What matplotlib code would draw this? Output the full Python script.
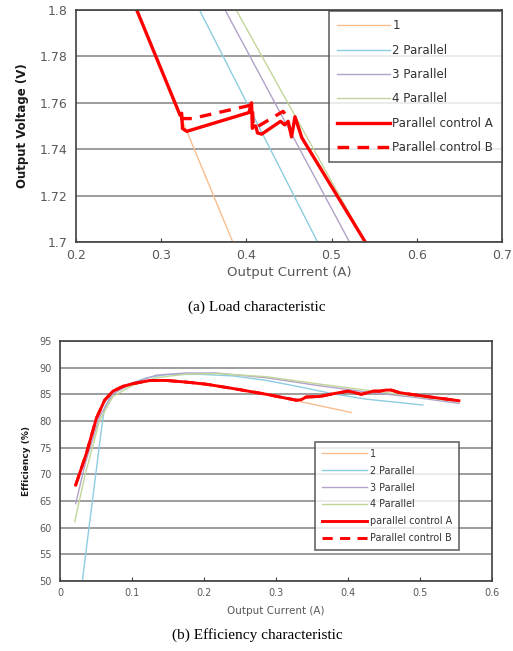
import matplotlib
matplotlib.use("Agg")
import matplotlib.pyplot as plt

# ---------------- (a) Load characteristic ----------------
load_labels = ["1", "2 Parallel", "3 Parallel", "4 Parallel", "Parallel control A", "Parallel control B"]
load_1_x = [0.271, 0.384]
load_1_y = [1.800, 1.700]
load_2_x = [0.345, 0.4835]
load_2_y = [1.800, 1.700]
load_3_x = [0.375, 0.521]
load_3_y = [1.800, 1.700]
load_4_x = [0.388, 0.5395]
load_4_y = [1.800, 1.700]
load_A_x = [0.2713, 0.3222, 0.3240, 0.3250, 0.3300, 0.4030, 0.4060, 0.4070, 0.4090, 0.4110,
            0.4130, 0.4180, 0.4400, 0.4450, 0.4490, 0.4530, 0.4570, 0.4650, 0.5395]
load_A_y = [1.8000, 1.7546, 1.7555, 1.7489, 1.7477, 1.7558, 1.7600, 1.7490, 1.7500, 1.7500,
            1.7470, 1.7465, 1.7520, 1.7505, 1.7520, 1.7453, 1.7540, 1.7450, 1.7000]
load_B_x = [0.3222, 0.3360, 0.4030, 0.4070, 0.4080, 0.4130, 0.4430, 0.4470]
load_B_y = [1.7532, 1.7532, 1.7588, 1.7590, 1.7500, 1.7497, 1.7563, 1.7545]

# ---------------- (b) Efficiency characteristic ----------------
eff_labels = ["1", "2 Parallel", "3 Parallel", "4 Parallel", "parallel control A", "Parallel control B"]
eff_A_x = [0.0218, 0.0366, 0.0505, 0.062, 0.0736, 0.0875, 0.101, 0.125, 0.148, 0.175, 0.203, 0.240,
           0.287, 0.328, 0.335, 0.342, 0.361, 0.379, 0.400, 0.407, 0.4185, 0.435, 0.444, 0.453,
           0.460, 0.472, 0.509, 0.554]
eff_A_y = [68.0, 73.9, 80.5, 83.9, 85.6, 86.5, 87.0, 87.6, 87.6, 87.3, 86.9, 86.1,
           85.0, 83.9, 84.0, 84.5, 84.6, 85.1, 85.6, 85.4, 85.0, 85.6, 85.6, 85.8,
           85.8, 85.3, 84.6, 83.8]
eff_B_x = [0.0218, 0.0366, 0.0505, 0.062, 0.0736, 0.0875, 0.101, 0.125, 0.148, 0.175, 0.203, 0.240,
           0.287, 0.328, 0.335, 0.342, 0.361, 0.379, 0.400, 0.407, 0.4185, 0.435, 0.444, 0.453,
           0.460, 0.472, 0.509, 0.554]
eff_B_y = [68.0, 73.9, 80.5, 83.9, 85.6, 86.5, 87.0, 87.6, 87.6, 87.3, 86.9, 86.1,
           85.0, 83.9, 84.0, 84.5, 84.6, 85.1, 85.6, 85.4, 85.0, 85.6, 85.6, 85.8,
           85.8, 85.3, 84.6, 83.8]
eff_1_x = [0.0218, 0.0366, 0.0505, 0.062, 0.0736, 0.0875, 0.101, 0.125, 0.148, 0.175, 0.203, 0.240,
           0.287, 0.328, 0.4046]
eff_1_y = [67.8, 73.7, 80.3, 83.8, 85.5, 86.4, 86.9, 87.5, 87.5, 87.2, 86.8, 86.0,
           84.9, 83.8, 81.6]
eff_2_x = [0.031, 0.0389, 0.0574, 0.062, 0.0736, 0.092, 0.120, 0.148, 0.194, 0.240, 0.287, 0.333,
           0.379, 0.425, 0.504]
eff_2_y = [50.0, 58.5, 78.3, 82.6, 85.4, 86.7, 88.1, 88.7, 88.76, 88.45, 87.6, 86.4,
           85.1, 84.1, 83.0]
eff_3_x = [0.0218, 0.035, 0.055, 0.0736, 0.101, 0.134, 0.175, 0.217, 0.287, 0.356, 0.425, 0.495, 0.554]
eff_3_y = [64.5, 72.0, 80.8, 85.1, 87.1, 88.6, 89.0, 89.0, 88.1, 86.7, 85.45, 84.4, 83.3]
eff_4_x = [0.0204, 0.035, 0.055, 0.0736, 0.101, 0.134, 0.175, 0.217, 0.287, 0.356, 0.425, 0.495, 0.554]
eff_4_y = [61.1, 70.0, 80.1, 84.6, 86.7, 88.1, 88.8, 88.9, 88.3, 87.0, 85.8, 84.6, 83.6]

c1, c2, c3, c4, cr = "#F8BE8E", "#8DCDE0", "#B2A1C9", "#C2D69A", "#FF0000"
tick_col = "#595959"
spine_col = "#404040"
grid_col = "#8C8C8C"

fig = plt.figure(figsize=(5.13, 6.51), dpi=100)

def style(ax, fs):
    for s in ax.spines.values():
        s.set_color(spine_col)
        s.set_linewidth(1.2)
    ax.yaxis.grid(True, color=grid_col, linewidth=1.2)
    ax.set_axisbelow(True)
    ax.tick_params(axis="x", direction="in", length=3, width=0.8, color=spine_col,
                   labelsize=fs, labelcolor=tick_col, pad=5)
    ax.tick_params(axis="y", length=0, labelsize=fs, labelcolor=tick_col, pad=6)

# top
ax1 = fig.add_axes([76/513, 1-242/651, 426/513, 232/651])
ax1.plot(load_1_x, load_1_y, color=c1, lw=1.0, label=load_labels[0])
ax1.plot(load_2_x, load_2_y, color=c2, lw=1.0, label=load_labels[1])
ax1.plot(load_3_x, load_3_y, color=c3, lw=1.0, label=load_labels[2])
ax1.plot(load_4_x, load_4_y, color=c4, lw=1.0, label=load_labels[3])
ax1.plot(load_A_x, load_A_y, color=cr, lw=2.4, label=load_labels[4], solid_joinstyle="round")
ax1.plot(load_B_x, load_B_y, color=cr, lw=2.4, ls=(0, (3.5, 2.5)), label=load_labels[5])
ax1.set_xlim(0.2, 0.7)
ax1.set_ylim(1.7, 1.8)
ax1.set_xticks([0.2, 0.3, 0.4, 0.5, 0.6, 0.7])
ax1.set_xticklabels(["0.2", "0.3", "0.4", "0.5", "0.6", "0.7"])
ax1.set_yticks([1.7, 1.72, 1.74, 1.76, 1.78, 1.8])
ax1.set_yticklabels(["1.7", "1.72", "1.74", "1.76", "1.78", "1.8"])
style(ax1, 9)
ax1.set_xlabel("Output Current (A)", fontsize=9.5, color=tick_col, labelpad=3)
ax1.set_ylabel("Output Voltage (V)", fontsize=8.5, fontweight="bold", color="#1a1a1a", labelpad=8)
leg1 = ax1.legend(loc="upper left", bbox_to_anchor=(329/513, 1-11/651), bbox_transform=fig.transFigure,
                  fontsize=8.6, handlelength=4.4, labelspacing=0.95, handletextpad=0.2,
                  frameon=True, fancybox=False, borderpad=0.7, borderaxespad=0)
leg1.get_frame().set_edgecolor(spine_col)
leg1.get_frame().set_linewidth(1.2)
for t in leg1.get_texts():
    t.set_color("#333333")

fig.text(257/513, 1-307/651, "(a) Load characteristic", ha="center", va="center",
         fontsize=11, family="Liberation Serif")

# bottom
ax2 = fig.add_axes([60/513, 1-581/651, 432/513, 240/651])
ax2.plot(eff_1_x, eff_1_y, color=c1, lw=1.0, label=eff_labels[0])
ax2.plot(eff_2_x, eff_2_y, color=c2, lw=1.0, label=eff_labels[1])
ax2.plot(eff_3_x, eff_3_y, color=c3, lw=1.0, label=eff_labels[2])
ax2.plot(eff_4_x, eff_4_y, color=c4, lw=1.0, label=eff_labels[3])
ax2.plot(eff_B_x, eff_B_y, color=cr, lw=2.1, ls=(0, (3.5, 2.5)), label=eff_labels[5])
ax2.plot(eff_A_x, eff_A_y, color=cr, lw=2.1, label=eff_labels[4], solid_joinstyle="round")
ax2.set_xlim(0, 0.6)
ax2.set_ylim(50, 95)
ax2.set_xticks([0, 0.1, 0.2, 0.3, 0.4, 0.5, 0.6])
ax2.set_xticklabels(["0", "0.1", "0.2", "0.3", "0.4", "0.5", "0.6"])
ax2.set_yticks(list(range(50, 96, 5)))
style(ax2, 7)
ax2.set_xlabel("Output Current (A)", fontsize=7.5, color=tick_col, labelpad=6)
ax2.set_ylabel("Efficiency (%)", fontsize=6.5, fontweight="bold", color="#1a1a1a", labelpad=6)
h, l = ax2.get_legend_handles_labels()
order = [0, 1, 2, 3, 5, 4]
leg2 = ax2.legend([h[i] for i in order], [l[i] for i in order], loc="upper left",
                  bbox_to_anchor=(315/513, 1-442/651), bbox_transform=fig.transFigure,
                  fontsize=6.9, handlelength=4.7, labelspacing=0.72, handletextpad=0.3,
                  frameon=True, fancybox=False, borderpad=0.7, borderaxespad=0)
leg2.get_frame().set_edgecolor(spine_col)
leg2.get_frame().set_linewidth(1.2)
for t in leg2.get_texts():
    t.set_color("#333333")

fig.text(257/513, 1-635/651, "(b) Efficiency characteristic", ha="center", va="center",
         fontsize=11, family="Liberation Serif")

fig.savefig("out.png", dpi=100)
